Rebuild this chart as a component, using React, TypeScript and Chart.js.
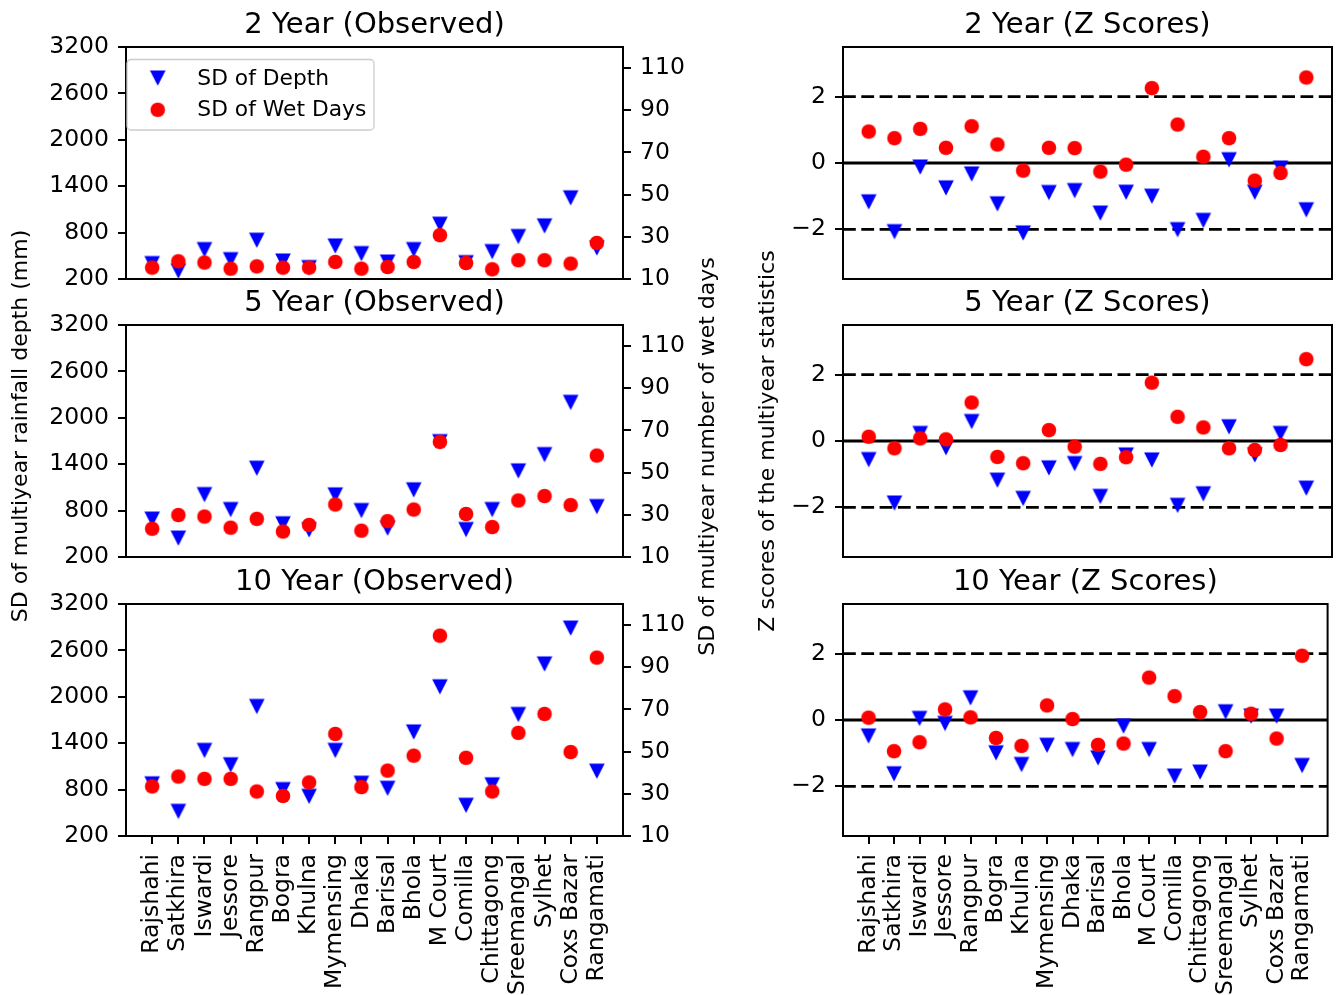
import React, { useEffect, useRef } from "react";
import { Chart, registerables } from "chart.js";

Chart.register(...registerables);

// ---------------- data ----------------
const STATIONS = [
  "Rajshahi", "Satkhira", "Iswardi", "Jessore", "Rangpur", "Bogra", "Khulna",
  "Mymensing", "Dhaka", "Barisal", "Bhola", "M Court", "Comilla", "Chittagong",
  "Sreemangal", "Sylhet", "Coxs Bazar", "Rangamati",
];

const SERIES_NAMES = ["SD of Depth", "SD of Wet Days"];

const DEPTH_2Y = [400, 304, 581, 451, 702, 433, 348, 628, 529, 420, 581, 909, 412, 555, 750, 887, 1250, 602];
const WET_DAYS_2Y = [15.4, 18.4, 17.8, 14.9, 16.0, 15.4, 15.4, 18.1, 14.9, 15.7, 18.1, 30.8, 17.6, 14.6, 18.9, 18.9, 17.3, 27.1];

const DEPTH_5Y = [691, 445, 1008, 815, 1349, 630, 552, 1004, 802, 574, 1069, 1692, 556, 815, 1314, 1525, 2201, 853];
const WET_DAYS_5Y = [23.4, 29.9, 29.2, 23.9, 28.1, 22.1, 25.2, 34.9, 22.5, 27.0, 32.5, 64.6, 30.4, 24.2, 36.8, 38.9, 34.6, 58.1];

const DEPTH_10Y = [875, 520, 1308, 1122, 1876, 801, 714, 1308, 883, 818, 1546, 2130, 598, 862, 1772, 2425, 2889, 1039];
const WET_DAYS_10Y = [33.5, 38.2, 37.1, 37.1, 31.1, 29.0, 35.4, 58.4, 33.2, 41.0, 48.1, 105.0, 47.1, 31.1, 58.9, 67.9, 49.8, 94.6];

const Z_DEPTH_2Y = [-1.17, -2.07, -0.12, -0.75, -0.33, -1.23, -2.11, -0.89, -0.83, -1.51, -0.88, -1.0, -2.01, -1.73, 0.1, -0.88, -0.15, -1.41];
const Z_WET_DAYS_2Y = [0.95, 0.75, 1.03, 0.46, 1.11, 0.56, -0.23, 0.46, 0.45, -0.26, -0.05, 2.26, 1.16, 0.19, 0.75, -0.53, -0.3, 2.58];

const Z_DEPTH_5Y = [-0.56, -1.87, 0.23, -0.2, 0.59, -1.18, -1.73, -0.81, -0.68, -1.67, -0.42, -0.57, -1.94, -1.59, 0.43, -0.42, 0.23, -1.42];
const Z_WET_DAYS_5Y = [0.13, -0.22, 0.08, 0.05, 1.16, -0.48, -0.67, 0.33, -0.17, -0.69, -0.49, 1.76, 0.73, 0.41, -0.22, -0.27, -0.12, 2.47];

const Z_DEPTH_10Y = [-0.48, -1.62, 0.05, -0.1, 0.67, -0.99, -1.34, -0.76, -0.89, -1.14, -0.18, -0.89, -1.69, -1.57, 0.25, 0.12, 0.12, -1.37];
const Z_WET_DAYS_10Y = [0.07, -0.94, -0.67, 0.32, 0.08, -0.54, -0.78, 0.44, 0.03, -0.75, -0.71, 1.28, 0.72, 0.24, -0.94, 0.19, -0.56, 1.94];

const DEPTH_TICKS = [200, 800, 1400, 2000, 2600, 3200];
const WET_DAY_TICKS = [10, 30, 50, 70, 90, 110];
const Z_TICKS = [-2, 0, 2];
const Z_LIMITS = [-2, 2];
const Z_MEAN = [0];

const DEPTH_RANGE = [200, 3200];
const WET_DAY_RANGE = [10, 120];
const Z_RANGE = [-3.5, 3.5];
const X_RANGE = [-1, STATIONS.length];

const OBSERVED_TITLES = ["2 Year (Observed)", "5 Year (Observed)", "10 Year (Observed)"];
const Z_TITLES = ["2 Year (Z Scores)", "5 Year (Z Scores)", "10 Year (Z Scores)"];
const Y_LABEL_DEPTH = "SD of multiyear rainfall depth (mm)";
const Y_LABEL_WET = "SD of multiyear number of wet days";
const Y_LABEL_Z = "Z scores of the multiyear statistics";

const OBSERVED = [
  { depth: DEPTH_2Y, wet: WET_DAYS_2Y },
  { depth: DEPTH_5Y, wet: WET_DAYS_5Y },
  { depth: DEPTH_10Y, wet: WET_DAYS_10Y },
];
const ZSCORES = [
  { depth: Z_DEPTH_2Y, wet: Z_WET_DAYS_2Y },
  { depth: Z_DEPTH_5Y, wet: Z_WET_DAYS_5Y },
  { depth: Z_DEPTH_10Y, wet: Z_WET_DAYS_10Y },
];

// ---------------- layout ----------------
const W = 1341;
const H = 995;
const FAMILY = "'DejaVu Sans', 'Liberation Sans', sans-serif";
const TICK_SIZE = 23.5;
const TITLE_SIZE = 29;
const LABEL_SIZE = 22;
const LEGEND_SIZE = 21.8;

const LEFT_AREA = { left: 126, right: 623 };
const RIGHT_AREA = { left: 843, right: 1339 };
const ROWS = [
  { top: 47, bottom: 279, titleY: 25 },
  { top: 325, bottom: 557, titleY: 303.5 },
  { top: 604, bottom: 836, titleY: 582 },
];

Chart.defaults.font.family = FAMILY;
Chart.defaults.color = "#000";

let MARKERS: any = null;
function markers() {
  if (MARKERS) return MARKERS;
  const tri = document.createElement("canvas");
  tri.width = 18;
  tri.height = 18;
  const t = tri.getContext("2d")!;
  t.fillStyle = "#0000ff";
  t.beginPath();
  t.moveTo(1.2, 1.4);
  t.lineTo(16.8, 1.4);
  t.lineTo(9, 16.8);
  t.closePath();
  t.fill();
  const cir = document.createElement("canvas");
  cir.width = 18;
  cir.height = 18;
  const c = cir.getContext("2d")!;
  c.fillStyle = "#ff0000";
  c.beginPath();
  c.arc(9, 9, 7.3, 0, Math.PI * 2);
  c.fill();
  MARKERS = { tri, cir };
  return MARKERS;
}

// ---------------- plugins ----------------
const framePlugin = {
  id: "axesFrame",
  afterDatasetsDraw(chart: any) {
    const { ctx, chartArea: a } = chart;
    ctx.save();
    ctx.strokeStyle = "#000";
    ctx.lineWidth = 2;
    ctx.strokeRect(a.left, a.top, a.right - a.left, a.bottom - a.top);
    ctx.restore();
  },
};

const boxLegendPlugin = {
  id: "boxLegend",
  afterDraw(chart: any, _args: any, opts: any) {
    if (!opts || !opts.display) return;
    const { ctx, chartArea: a } = chart;
    const f = opts.frame;
    const x = a.left + f.x;
    const y = a.top + f.y;
    const r = 4;
    ctx.save();
    ctx.beginPath();
    ctx.moveTo(x + r, y);
    ctx.lineTo(x + f.w - r, y);
    ctx.arcTo(x + f.w, y, x + f.w, y + r, r);
    ctx.lineTo(x + f.w, y + f.h - r);
    ctx.arcTo(x + f.w, y + f.h, x + f.w - r, y + f.h, r);
    ctx.lineTo(x + r, y + f.h);
    ctx.arcTo(x, y + f.h, x, y + f.h - r, r);
    ctx.lineTo(x, y + r);
    ctx.arcTo(x, y, x + r, y, r);
    ctx.closePath();
    ctx.fillStyle = "rgba(255,255,255,0.8)";
    ctx.fill();
    ctx.strokeStyle = "#cccccc";
    ctx.lineWidth = 1.3;
    ctx.stroke();
    const items = chart.data.datasets.filter((d: any) => SERIES_NAMES.includes(d.label));
    ctx.font = `${LEGEND_SIZE}px ${FAMILY}`;
    ctx.fillStyle = "#000";
    ctx.textAlign = "left";
    ctx.textBaseline = "middle";
    items.forEach((d: any, i: number) => {
      const cy = a.top + opts.rowY[i];
      const img = d.pointStyle;
      ctx.drawImage(img, a.left + opts.markerX - img.width / 2, cy - img.height / 2);
      ctx.fillText(d.label, a.left + opts.textX, cy + 1);
    });
    ctx.restore();
  },
};

const sideLabelPlugin = {
  id: "sideLabels",
  afterDraw(chart: any, _args: any, opts: any) {
    if (!opts || !opts.items) return;
    const { ctx } = chart;
    opts.items.forEach((it: any) => {
      ctx.save();
      ctx.translate(it.x, it.y);
      ctx.rotate(-Math.PI / 2);
      ctx.font = `${LABEL_SIZE}px ${FAMILY}`;
      ctx.fillStyle = "#000";
      ctx.textAlign = "center";
      ctx.textBaseline = "middle";
      ctx.fillText(it.text, 0, 0);
      ctx.restore();
    });
  },
};

// ---------------- config builders ----------------
const tickGrid = {
  display: true,
  drawOnChartArea: false,
  drawTicks: true,
  tickLength: 8,
  tickWidth: 2,
  lineWidth: 2,
  tickColor: "#000",
};

function fmt(v: number) {
  return v < 0 ? "\u2212" + Math.abs(v) : String(v);
}

function xScale(showX: boolean, area: { bottom: number }) {
  return {
    type: "linear",
    min: X_RANGE[0],
    max: X_RANGE[1],
    display: showX,
    afterBuildTicks: (s: any) => {
      s.ticks = STATIONS.map((_, i) => ({ value: i }));
    },
    afterFit: (s: any) => {
      if (showX) s.height = H - area.bottom;
    },
    ticks: {
      autoSkip: false,
      minRotation: 90,
      maxRotation: 90,
      padding: 10,
      color: "#000",
      font: { family: FAMILY, size: TICK_SIZE },
      callback: (v: number) => STATIONS[v],
    },
    grid: tickGrid,
    border: { display: false },
  };
}

function yScale(position: string, range: number[], ticks: number[], width: number, extra: any = {}) {
  return {
    type: "linear",
    position,
    min: range[0],
    max: range[1],
    afterBuildTicks: (s: any) => {
      s.ticks = ticks.map((v) => ({ value: v }));
    },
    afterFit: (s: any) => {
      s.width = width;
    },
    ticks: {
      padding: 9,
      color: "#000",
      font: { family: FAMILY, size: TICK_SIZE },
      callback: (v: number) => fmt(v),
    },
    grid: tickGrid,
    border: { display: false },
    ...extra,
  };
}

function titleOpts(text: string, row: any) {
  const lh = TITLE_SIZE * 1.2;
  return {
    display: true,
    text,
    fullSize: false,
    color: "#000",
    font: { family: FAMILY, size: TITLE_SIZE, weight: "normal" },
    padding: { top: row.titleY - lh / 2, bottom: row.top - row.titleY - lh / 2 },
  };
}

function pts(values: number[]) {
  return values.map((v, i) => ({ x: i, y: v }));
}

function observedConfig(r: number) {
  const row = ROWS[r];
  const m = markers();
  const showX = r === 2;
  return {
    type: "scatter",
    data: {
      datasets: [
        { label: SERIES_NAMES[0], data: pts(OBSERVED[r].depth), yAxisID: "y", pointStyle: m.tri, pointRadius: 8, order: 1 },
        { label: SERIES_NAMES[1], data: pts(OBSERVED[r].wet), yAxisID: "y1", pointStyle: m.cir, pointRadius: 8, order: 0 },
      ],
    },
    options: {
      responsive: false,
      animation: false,
      devicePixelRatio: 1,
      events: [],
      layout: { padding: { left: 0, right: 0, top: 0, bottom: showX ? 0 : H - row.bottom } },
      plugins: {
        legend: { display: false },
        tooltip: { enabled: false },
        title: titleOpts(OBSERVED_TITLES[r], row),
        boxLegend: {
          display: r === 0,
          frame: { x: 1, y: 12.5, w: 247, h: 70.5 },
          markerX: 31.7,
          rowY: [31, 62.8],
          textX: 71.3,
        },
        sideLabels: {
          items:
            r === 1
              ? [
                  { text: Y_LABEL_DEPTH, x: 21.5, y: 426 },
                  { text: Y_LABEL_WET, x: 708.5, y: 456.5 },
                ]
              : [],
        },
      },
      scales: {
        x: xScale(showX, row),
        y: yScale("left", DEPTH_RANGE, DEPTH_TICKS, LEFT_AREA.left),
        y1: yScale("right", WET_DAY_RANGE, WET_DAY_TICKS, W - LEFT_AREA.right),
      },
    },
    plugins: [framePlugin, boxLegendPlugin, sideLabelPlugin],
  };
}

function zConfig(r: number) {
  const row = ROWS[r];
  const m = markers();
  const showX = r === 2;
  const hline = (v: number, dashed: boolean) => ({
    label: `z = ${v}`,
    data: [
      { x: X_RANGE[0], y: v },
      { x: X_RANGE[1], y: v },
    ],
    showLine: true,
    pointRadius: 0,
    borderColor: "#000",
    borderWidth: 2.8,
    borderDash: dashed ? [12.8, 5.5] : [],
    order: 2,
  });
  return {
    type: "scatter",
    data: {
      datasets: [
        { label: SERIES_NAMES[0], data: pts(ZSCORES[r].depth), pointStyle: m.tri, pointRadius: 8, order: 1 },
        { label: SERIES_NAMES[1], data: pts(ZSCORES[r].wet), pointStyle: m.cir, pointRadius: 8, order: 0 },
        ...Z_LIMITS.map((v) => hline(v, true)),
        ...Z_MEAN.map((v) => hline(v, false)),
      ],
    },
    options: {
      responsive: false,
      animation: false,
      devicePixelRatio: 1,
      events: [],
      layout: { padding: { left: 0, right: W - RIGHT_AREA.right, top: 0, bottom: showX ? 0 : H - row.bottom } },
      plugins: {
        legend: { display: false },
        tooltip: { enabled: false },
        title: titleOpts(Z_TITLES[r], row),
      },
      scales: {
        x: xScale(showX, row),
        y: yScale("left", Z_RANGE, Z_TICKS, RIGHT_AREA.left, {
          title: {
            display: r === 1,
            text: Y_LABEL_Z,
            color: "#000",
            font: { family: FAMILY, size: LABEL_SIZE },
            padding: { top: 768.5 - (LABEL_SIZE * 1.2) / 2, bottom: 0 },
          },
        }),
      },
    },
    plugins: [framePlugin],
  };
}

// ---------------- components ----------------
function Panel({ build }: { build: () => any }) {
  const ref = useRef<HTMLCanvasElement | null>(null);
  useEffect(() => {
    const chart = new Chart(ref.current as HTMLCanvasElement, build());
    return () => chart.destroy();
  }, []);
  return (
    <canvas
      ref={ref}
      width={W}
      height={H}
      style={{ position: "absolute", left: 0, top: 0, width: W, height: H }}
    />
  );
}

export default function App() {
  return (
    <div style={{ position: "absolute", left: 0, top: 0, width: W, height: H, background: "#fff", overflow: "hidden" }}>
      {[0, 1, 2].map((r) => (
        <Panel key={"o" + r} build={() => observedConfig(r)} />
      ))}
      {[0, 1, 2].map((r) => (
        <Panel key={"z" + r} build={() => zConfig(r)} />
      ))}
    </div>
  );
}
